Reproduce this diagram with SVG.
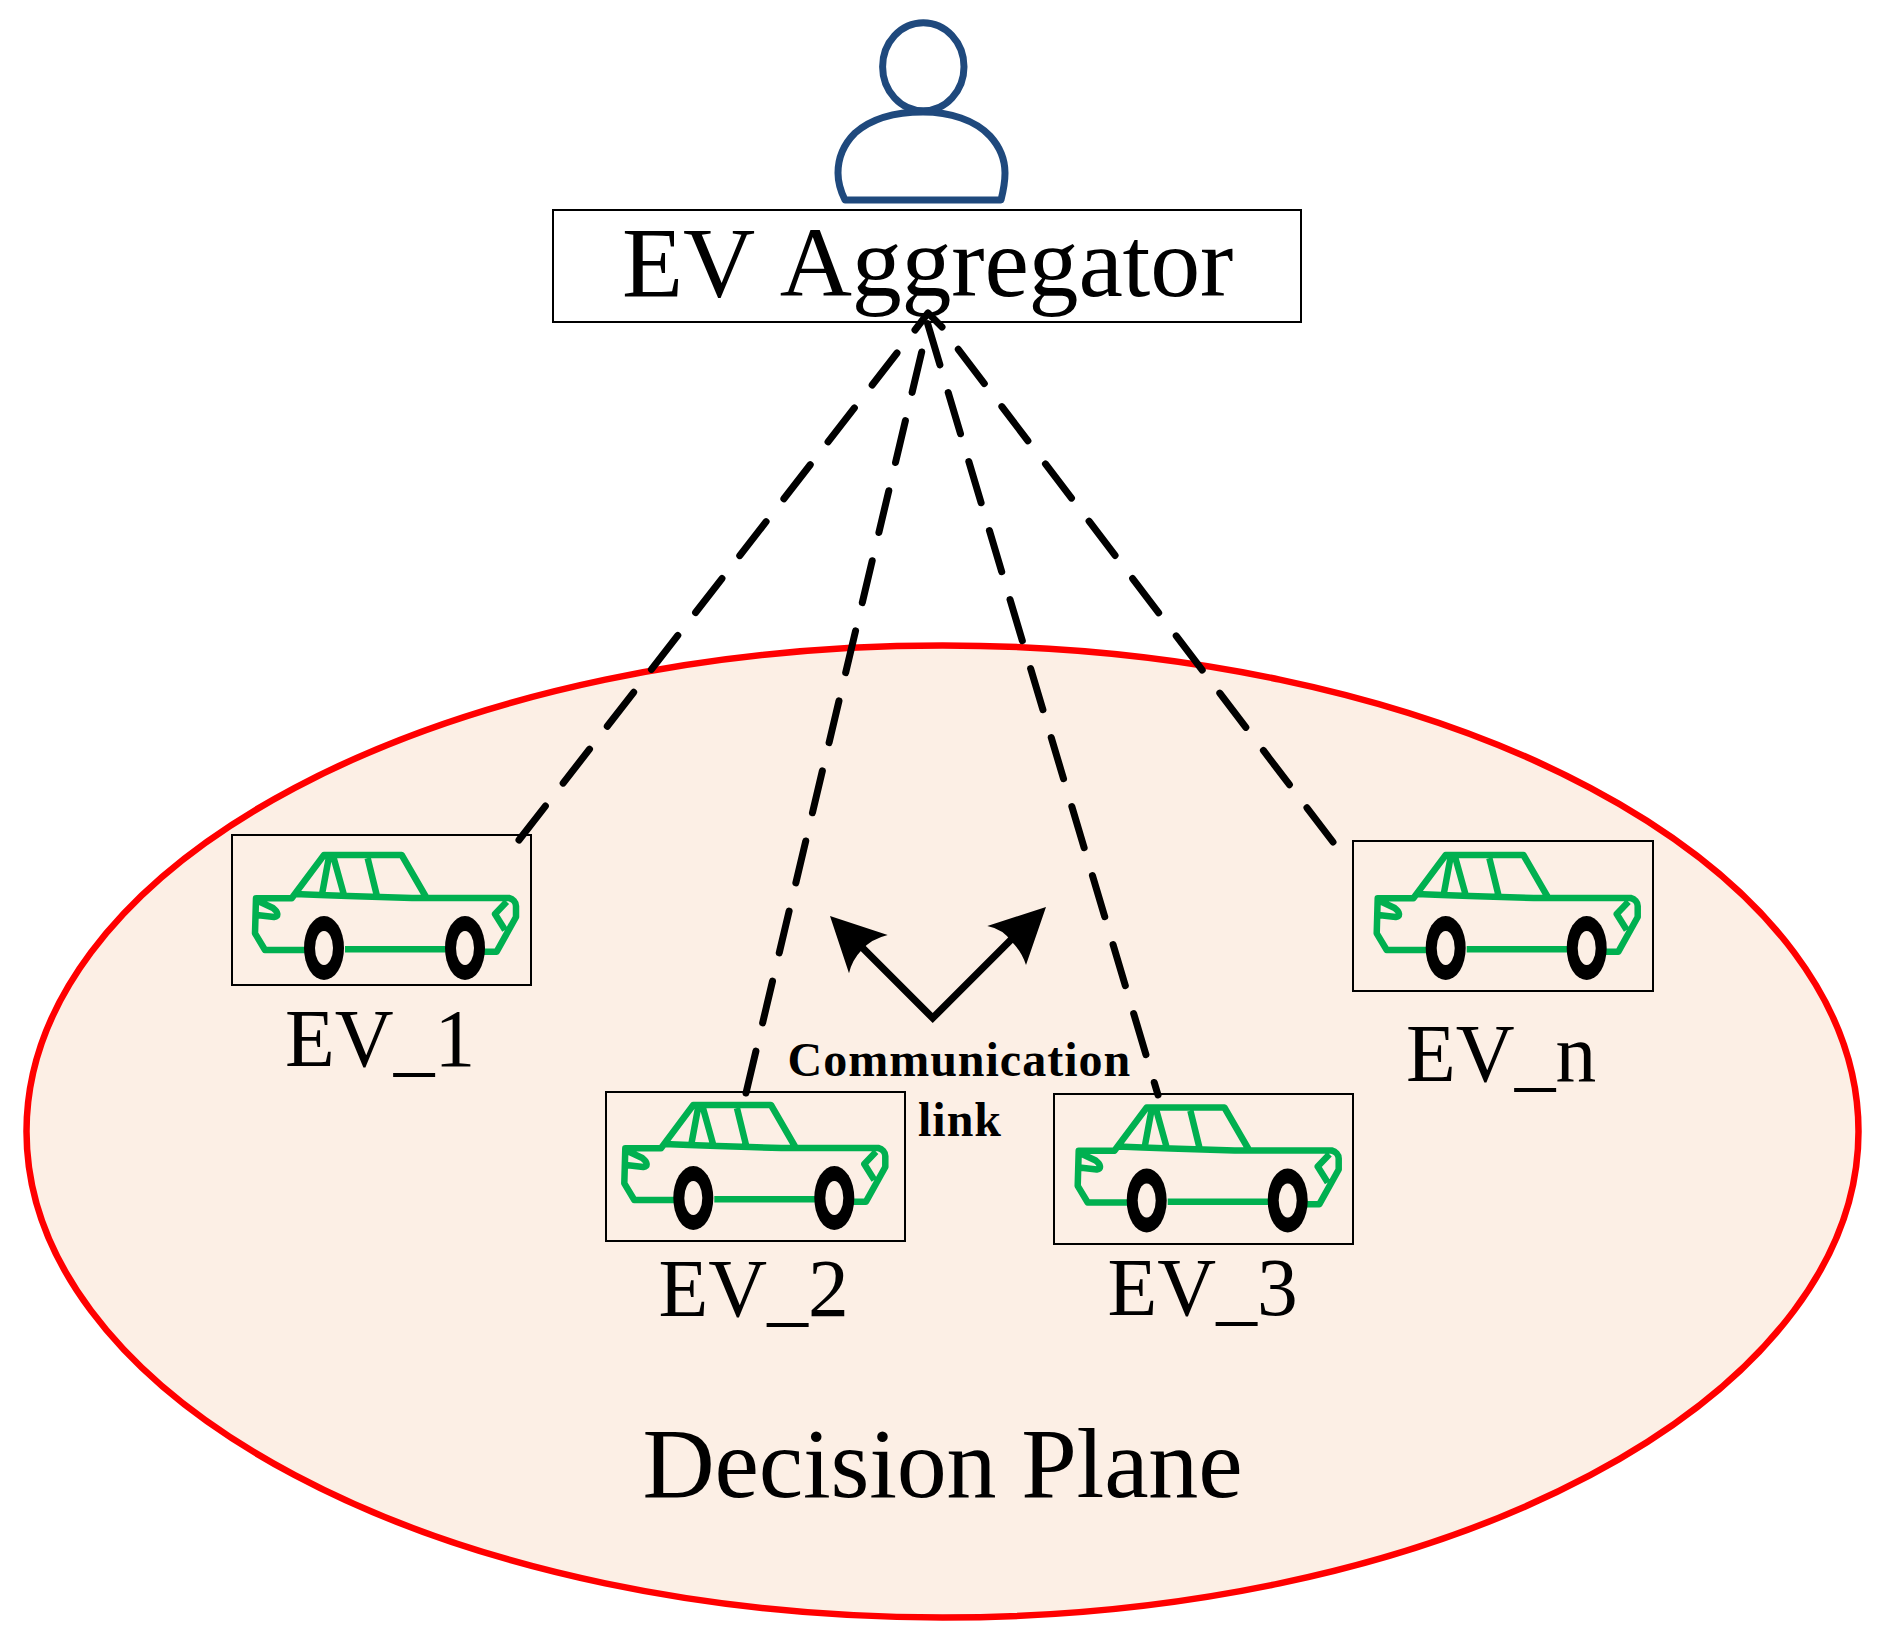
<svg xmlns="http://www.w3.org/2000/svg" width="1886" height="1650" viewBox="0 0 1886 1650">
<style>
text{font-family:"Liberation Serif","Times New Roman",serif;fill:#000;font-kerning:none}
.big{font-size:100px;letter-spacing:-.2px}
.ev{font-size:81.500px}
.cl{font-size:48px;font-weight:bold;letter-spacing:1px}
.box{fill:none;stroke:#000;stroke-width:2}
.dash{fill:none;stroke:#000;stroke-width:7;stroke-linecap:round;stroke-dasharray:43 29}
.solid{fill:none;stroke:#000;stroke-width:7;stroke-linecap:round;stroke-linejoin:round}
.vee{fill:none;stroke:#000;stroke-width:7.200;stroke-linejoin:miter}
.body{fill:none;stroke:#00B050;stroke-width:6.500;stroke-linejoin:round}
.person{fill:none;stroke:#1F497D;stroke-width:7;stroke-linejoin:round}
</style>
<defs>
<g id="car">
<path class="body" d="M308,950H265L255,933.300L256,898.300L291.700,898.300L324,855H401.700L426,897M345,949.300H449.300M329,856.700L321.700,896M333.300,856.700L344,895M367.700,858.300L376.700,895M295,894L320,895L348,896L380,897L412,898H509C513,899 516,902 516,906V917L496.700,951.700H481M506.700,901.700L495,914L505,930M256,900L273,908C278,912 279,916 274,917L256.700,915"/>
<ellipse cx="324" cy="948" rx="20" ry="32" fill="#000"/>
<ellipse cx="324" cy="948" rx="9" ry="17" fill="#FCEFE5"/>
<ellipse cx="465" cy="948" rx="20" ry="32" fill="#000"/>
<ellipse cx="465" cy="948" rx="9" ry="17" fill="#FCEFE5"/>
</g>
</defs>
<ellipse id="decision-plane" cx="942.500" cy="1131.500" rx="916" ry="486" fill="#FCEFE5" stroke="#FF0000" stroke-width="6.500"/>
<text x="642.500" y="1497" class="big">Decision Plane</text>
<g id="aggregator">
<ellipse class="person" cx="923.300" cy="66.700" rx="40.700" ry="44"/>
<path class="person" d="M845,200C840,190 838,182 838,173C838,155 845,143 855,133C872,118 897,112 923,112C950,112 975,120 990,136C1000,147 1005,160 1005,173C1005,182 1003,192 1001,200Z"/>
<rect class="box" x="553" y="210" width="748" height="112"/>
<text x="622" y="296" class="big">EV Aggregator</text>
</g>
<g id="ev1">
<rect class="box" x="232" y="835" width="299" height="150"/>
<use href="#car"/>
<text x="285" y="1066" class="ev">EV_1</text>
</g>
<g id="ev2">
<rect class="box" x="606" y="1092" width="299" height="149"/>
<use href="#car" transform="translate(369.300,250)"/>
<text x="658.500" y="1316" class="ev">EV_2</text>
</g>
<g id="ev3">
<rect class="box" x="1054" y="1094" width="299" height="150"/>
<use href="#car" transform="translate(822.700,252.500)"/>
<text x="1107.500" y="1315" class="ev">EV_3</text>
</g>
<g id="evn">
<rect class="box" x="1353" y="841" width="300" height="150"/>
<use href="#car" transform="translate(1121.700,0)"/>
<text x="1406" y="1081" class="ev">EV_n</text>
</g>
<g id="connectors">
<path class="dash" d="M519,840L897,353"/>
<path class="dash" d="M746,1093L921.700,352"/>
<path class="dash" d="M927.600,323.600L1158,1095"/>
<path class="dash" d="M1333,842L958.300,349.300"/>
<path class="solid" d="M915,330L928,313L942,327"/>
<path class="vee" d="M862.700,948L932.700,1018L1012.700,938"/>
<path d="M830,916L887.700,935Q871,939 861.700,950Q852,960 849,973.300Z" fill="#000"/>
<path d="M1046,907L987.300,926Q1003,929 1012,942Q1022,952 1026,965Z" fill="#000"/>
</g>
<text x="787.500" y="1076" class="cl">Communication</text>
<text x="918" y="1136" class="cl">link</text>
</svg>
